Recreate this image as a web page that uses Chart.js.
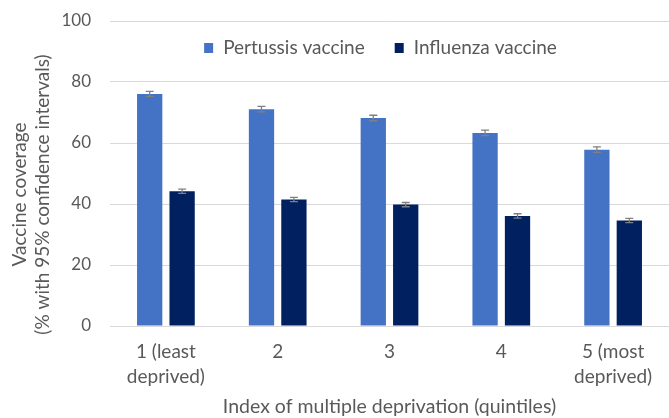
<!DOCTYPE html>
<html>
<head>
<meta charset="utf-8">
<script src="https://cdn.jsdelivr.net/npm/chart.js@4/dist/chart.umd.min.js"></script>
<style>
  html, body { margin: 0; padding: 0; background: #ffffff; }
  #wrap { width: 669px; height: 418px; position: relative; }
</style>
</head>
<body>
<div id="wrap"><canvas id="c" width="669" height="418"></canvas></div>
<script>
const categories = [["1 (least", "deprived)"], "2", "3", "4", ["5 (most", "deprived)"]];
const seriesNames = ["Pertussis vaccine", "Influenza vaccine"];
const pertussis = [76.1, 71.1, 68.2, 63.3, 57.8];
const influenza = [44.2, 41.5, 39.8, 36.1, 34.6];
const pertussisErr = [0.8, 0.9, 0.9, 0.9, 0.9];
const influenzaErr = [0.7, 0.7, 0.7, 0.7, 0.7];
const yTicks = [0, 20, 40, 60, 80, 100];
const yTitle = ["Vaccine coverage", "(% with 95% confidence intervals)"];
const xTitle = "Index of multiple deprivation (quintiles)";

const FONT = "Lato";
const TEXT = "#595959";
const GRID = "#d9d9d9";

const errorBars = {
  id: 'errorBars',
  afterDatasetsDraw(chart) {
    const ctx = chart.ctx;
    const yScale = chart.scales.y;
    ctx.save();
    ctx.strokeStyle = '#808080';
    ctx.lineWidth = 1.3;
    chart.data.datasets.forEach((ds, di) => {
      const meta = chart.getDatasetMeta(di);
      meta.data.forEach((bar, i) => {
        const v = ds.data[i], e = ds.errors[i];
        const yTop = yScale.getPixelForValue(v + e);
        const yBot = yScale.getPixelForValue(v - e);
        const x = bar.x, cap = 4;
        ctx.beginPath();
        ctx.moveTo(x, yTop); ctx.lineTo(x, yBot);
        ctx.moveTo(x - cap, yTop); ctx.lineTo(x + cap, yTop);
        ctx.moveTo(x - cap, yBot); ctx.lineTo(x + cap, yBot);
        ctx.stroke();
      });
    });
    ctx.restore();
  }
};

// Legend drawn inside the plot area (from dataset labels and colours)
const insideLegend = {
  id: 'insideLegend',
  afterDraw(chart) {
    const ctx = chart.ctx;
    const area = chart.chartArea;
    const fontSize = 19, boxW = 9, boxH = 10, gapText = 10, gapItem = 30;
    ctx.save();
    ctx.font = fontSize + "px " + FONT;
    const items = chart.data.datasets.map(ds => ({ text: ds.label, color: ds.backgroundColor, w: ctx.measureText(ds.label).width }));
    let total = 0;
    items.forEach((it, i) => { total += boxW + gapText + it.w + (i < items.length - 1 ? gapItem : 0); });
    const cx = (area.left + area.right) / 2 - 9;
    const cy = area.top + 27;
    let x = cx - total / 2;
    ctx.textBaseline = 'middle';
    ctx.textAlign = 'left';
    items.forEach(it => {
      ctx.fillStyle = it.color;
      ctx.fillRect(x, cy - boxH / 2, boxW, boxH);
      x += boxW + gapText;
      ctx.fillStyle = TEXT;
      ctx.fillText(it.text, x, cy);
      x += it.w + gapItem;
    });
    ctx.restore();
  }
};

// Two-line y-axis title, centred a little below the plot centre as in the source
const yAxisTitle = {
  id: 'yAxisTitle',
  afterDraw(chart) {
    const ctx = chart.ctx;
    const area = chart.chartArea;
    ctx.save();
    ctx.font = "19px " + FONT;
    ctx.fillStyle = TEXT;
    ctx.textAlign = 'center';
    ctx.textBaseline = 'middle';
    const cy = (area.top + area.bottom) / 2 + 21;
    const xs = [20, 43];
    yTitle.forEach((line, i) => {
      ctx.save();
      ctx.translate(xs[i], cy);
      ctx.rotate(-Math.PI / 2);
      ctx.fillText(line, 0, 0);
      ctx.restore();
    });
    ctx.restore();
  }
};

new Chart(document.getElementById('c'), {
  type: 'bar',
  data: {
    labels: categories,
    datasets: [
      { label: seriesNames[0], data: pertussis, errors: pertussisErr, backgroundColor: '#4472C4' },
      { label: seriesNames[1], data: influenza, errors: influenzaErr, backgroundColor: '#002060' }
    ]
  },
  options: {
    responsive: false,
    animation: false,
    devicePixelRatio: 1,
    layout: { padding: { left: 0, right: 0, top: 21, bottom: 0 } },
    datasets: { bar: { categoryPercentage: 0.58, barPercentage: 0.78 } },
    plugins: {
      legend: { display: false },
      tooltip: { enabled: false }
    },
    scales: {
      x: {
        grid: { display: false, drawTicks: false },
        border: { display: true, color: GRID, width: 1 },
        ticks: { font: { family: FONT, size: 19, lineHeight: 1.3 }, color: TEXT, padding: 14, maxRotation: 0, autoSkip: false },
        title: { display: true, text: xTitle, font: { family: FONT, size: 19.5, lineHeight: 1.2 }, color: TEXT, padding: { top: 0, bottom: 0 } },
        afterFit(s) { s.height = 92; }
      },
      y: {
        min: 0, max: 100,
        afterBuildTicks(s) { s.ticks = yTicks.map(v => ({ value: v })); },
        grid: { color: GRID, lineWidth: 1, drawTicks: false },
        border: { display: false },
        ticks: { font: { family: FONT, size: 17 }, color: TEXT, padding: 19 },
        title: { display: false },
        afterFit(s) { s.width = 110; s.paddingTop = 10; s.paddingBottom = 10; }
      }
    }
  },
  plugins: [errorBars, insideLegend, yAxisTitle]
});
</script>
</body>
</html>
